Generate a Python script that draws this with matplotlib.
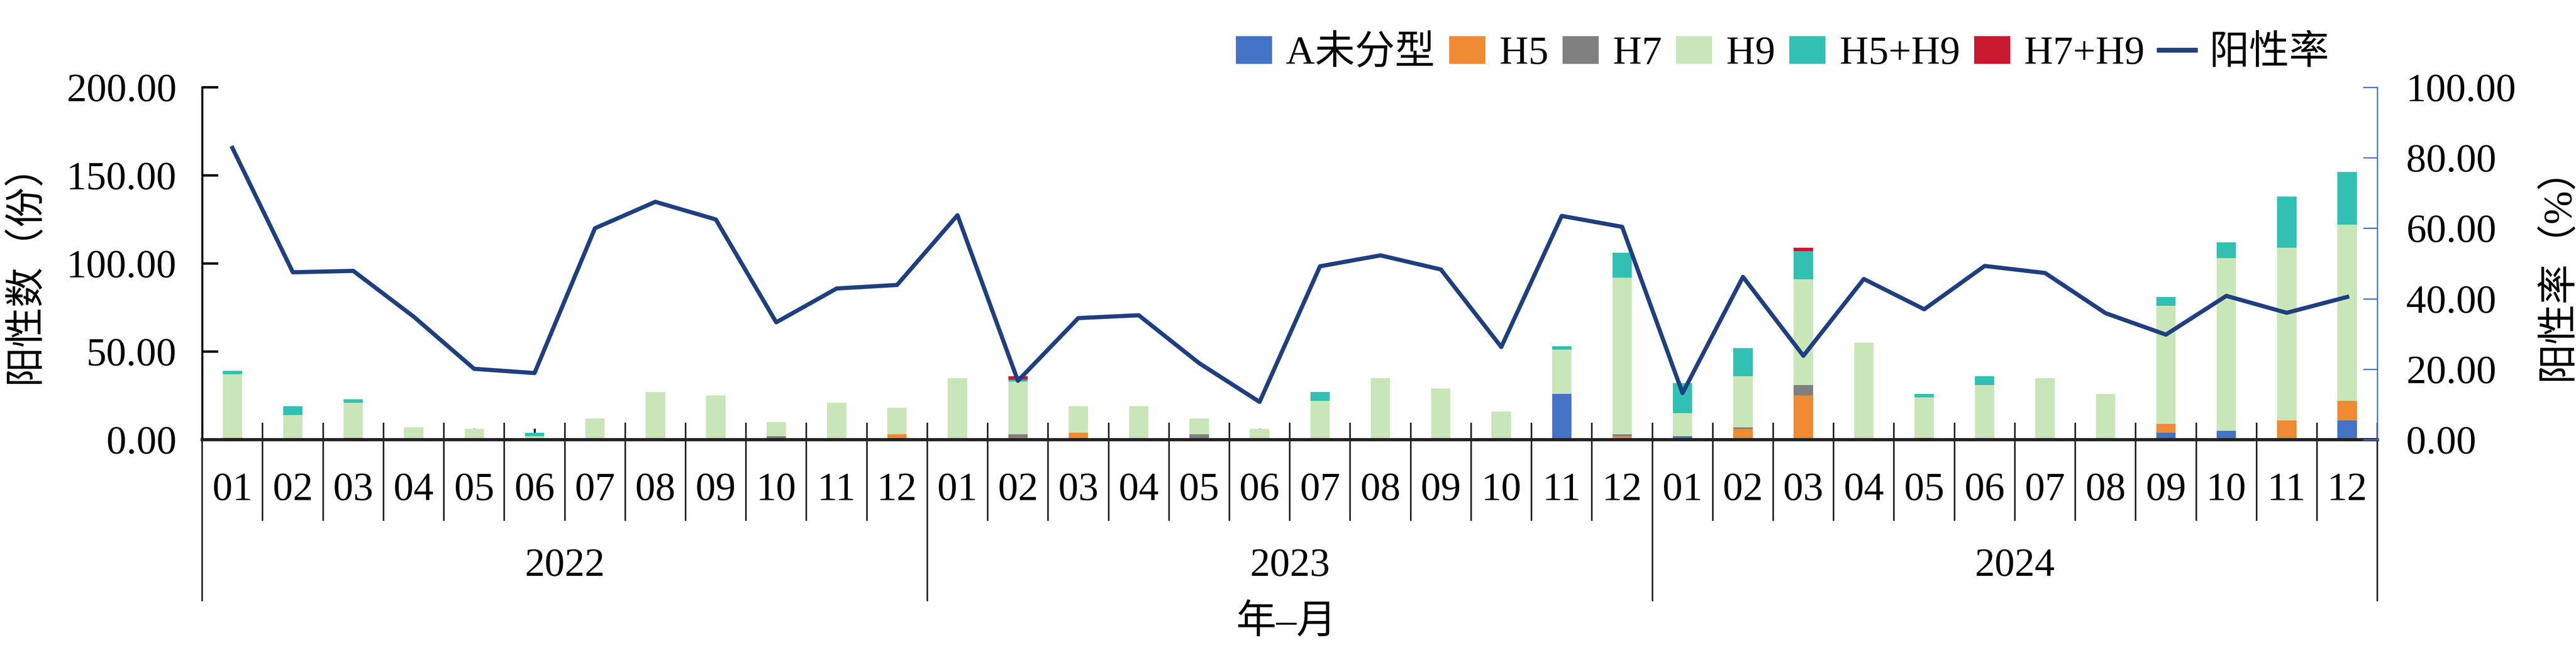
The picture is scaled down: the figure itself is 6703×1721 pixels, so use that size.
import numpy as np
import matplotlib.pyplot as plt
from matplotlib.patches import Patch
from matplotlib.lines import Line2D

plt.rcParams['font.family'] = ['Liberation Serif', 'Noto Sans CJK SC', 'DejaVu Sans']

years = ['2022', '2023', '2024']
months = ['01', '02', '03', '04', '05', '06', '07', '08', '09', '10', '11', '12']

# counts per month, 2022-01 .. 2024-12
a_untyped = [0, 0, 0, 0, 0, 0, 0, 0, 0, 0, 0, 0,
             0, 0, 0, 0, 0, 0, 0, 0, 0, 0, 26, 0,
             2, 0, 0, 0, 0, 0, 0, 0, 4, 5, 0, 11]
h5 = [1, 0, 1, 0, 0, 0, 0, 0, 0, 0, 0, 3,
      0, 1, 4, 0, 0, 0, 0, 0, 0, 0, 0, 2,
      0, 6, 25, 0, 1, 0, 0, 0, 5, 0, 11, 11]
h7 = [0, 0, 0, 0, 0, 0, 0, 0, 0, 2, 0, 0,
      0, 2, 0, 0, 3, 0, 0, 0, 0, 0, 0, 1,
      0, 1, 6, 0, 0, 0, 0, 0, 0, 0, 0, 0]
h9 = [36, 14, 20, 7, 6, 2, 12, 27, 25, 8, 21, 15,
      35, 30, 15, 19, 9, 6, 22, 35, 29, 16, 25, 89,
      13, 29, 60, 55, 23, 31, 35, 26, 67, 98, 98, 100]
h5_h9 = [2, 5, 2, 0, 0, 2, 0, 0, 0, 0, 0, 0,
         0, 1, 0, 0, 0, 0, 5, 0, 0, 0, 2, 14,
         17, 16, 16, 0, 2, 5, 0, 0, 5, 9, 29, 30]
h7_h9 = [0, 0, 0, 0, 0, 0, 0, 0, 0, 0, 0, 0,
         0, 2, 0, 0, 0, 0, 0, 0, 0, 0, 0, 0,
         0, 0, 2, 0, 0, 0, 0, 0, 0, 0, 0, 0]
positive_rate = [82.8, 47.5, 47.9, 34.9, 20.1, 18.9, 60.0, 67.5, 62.5, 33.3, 42.9, 43.9,
                 63.7, 16.7, 34.5, 35.3, 21.7, 10.7, 49.2, 52.3, 48.3, 26.3, 63.5, 60.4,
                 13.2, 46.2, 23.8, 45.6, 37.0, 49.3, 47.3, 35.9, 29.8, 40.8, 36.0, 40.5]

series = [('A未分型', a_untyped, '#4472C4'),
          ('H5', h5, '#F08A33'),
          ('H7', h7, '#808080'),
          ('H9', h9, '#C9E6B8'),
          ('H5+H9', h5_h9, '#32C0B3'),
          ('H7+H9', h7_h9, '#C8192E')]
line_color = '#203F80'

fig = plt.figure(figsize=(6703 / 300, 1721 / 300), dpi=300)
ax = fig.add_axes([0.0785, 0.3359, 0.8444, 0.5322])
ax2 = ax.twinx()

n = len(h9)
x = np.arange(n)
bottom = np.zeros(n)
for name, vals, col in series:
    ax.bar(x, vals, 0.32, bottom=bottom, color=col, zorder=2)
    bottom += np.array(vals)

ax2.plot(x, positive_rate, color=line_color, lw=2.6, zorder=3)

ax.set_xlim(-0.5, n - 0.5)
ax.set_ylim(0, 200)
ax2.set_ylim(0, 100)
ax.set_yticks(np.arange(0, 201, 50))
ax2.set_yticks(np.arange(0, 101, 20))
ax.set_yticklabels(['%.2f' % v for v in np.arange(0, 201, 50)], fontsize=25)
ax2.set_yticklabels(['%.2f' % v for v in np.arange(0, 101, 20)], fontsize=25)
ax.tick_params(axis='y', direction='in', length=10, width=1.5, pad=16)
ax2.tick_params(axis='y', direction='in', length=9, width=0.8, color='#4472C4', pad=18)

for a in (ax, ax2):
    a.spines['top'].set_visible(False)
ax2.spines['left'].set_visible(False)
ax2.spines['bottom'].set_visible(False)
ax2.spines['right'].set_color('#4472C4')
ax2.spines['right'].set_linewidth(0.8)
ax.spines['right'].set_visible(False)
ax.spines['left'].set_linewidth(1.3)
ax.spines['bottom'].set_linewidth(2.0)
ax.spines['bottom'].set_color('#222222')
ax.spines['bottom'].set_zorder(4)

# category axis: ticks at bar centres, separators between months and years
ax.set_xticks(x)
ax.set_xticklabels([])
ax.tick_params(axis='x', direction='in', length=7, width=1.2, color='black')
tr = ax.get_xaxis_transform()
for b in range(n + 1):
    xb = b - 0.5
    low = -0.456 if b % 12 == 0 else -0.228
    ax.plot([xb, xb], [0.046, low], transform=tr, color='#222222', lw=1.0,
            clip_on=False, zorder=1)
for i in range(n):
    ax.text(i, -0.144, months[i % 12], transform=tr, ha='center', va='center', fontsize=25)
for k, yr in enumerate(years):
    ax.text(k * 12 + 5.5, -0.359, yr, transform=tr, ha='center', va='center', fontsize=25)

fig.text(0.4993, 0.059, '年–月', ha='center', va='center', fontsize=25)
ax.set_ylabel('阳性数（份）', fontsize=25, labelpad=14)
ax2.set_ylabel('阳性率（%）', fontsize=25, labelpad=14)

handles = [Patch(facecolor=c, edgecolor='none') for _, _, c in series]
handles.append(Line2D([0], [0], color=line_color, lw=3))
labels = [s[0] for s in series] + ['阳性率']
fig.legend(handles, labels, loc='center', bbox_to_anchor=(0.692, 0.9187), ncol=7,
           frameon=False, fontsize=25, handlelength=0.9, handleheight=0.7,
           handletextpad=0.35, columnspacing=0.36, borderpad=0)

fig.savefig('out.png', dpi=300)
